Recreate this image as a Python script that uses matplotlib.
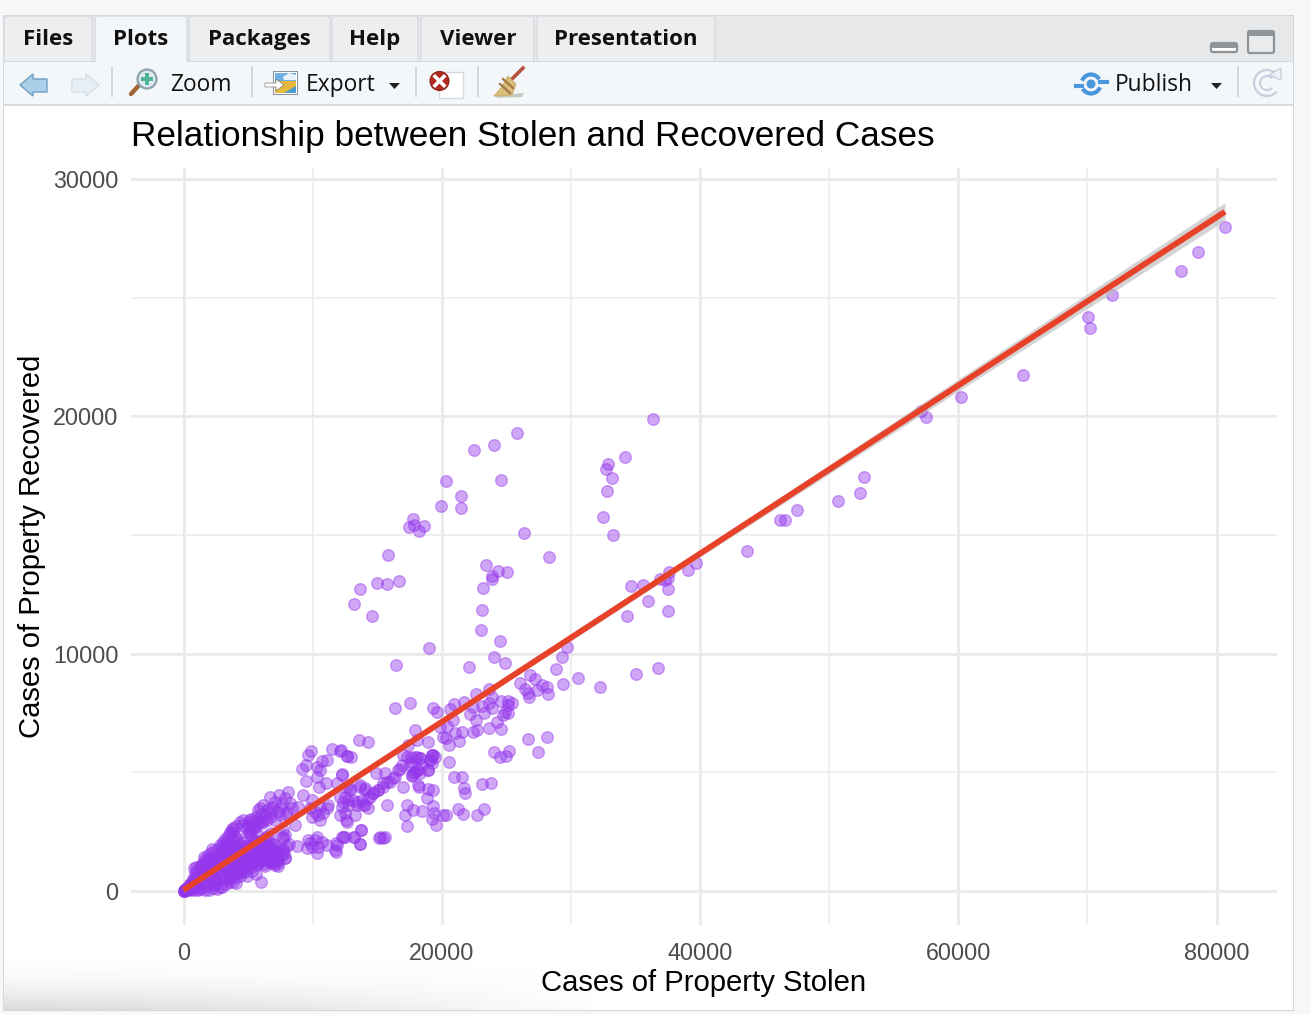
import numpy as np
import matplotlib
matplotlib.use("Agg")
import matplotlib.pyplot as plt
from matplotlib.patches import Rectangle, Polygon, Circle, FancyBboxPatch, Arc

# ---------------- data ----------------
far_x = [80654,78568,77252,71908,70049,70204,65016,60215,57504,57117,52703,52393,50690,47515,46586,46199,43642]
far_y = [27981,26927,26127,25115,24188,23725,21744,20817,19974,20227,17446,16772,16435,16055,15634,15634,14328]

high_x = [36380,25824,24069,22469,34213,32845,32715,33154,32793,20327,24585,21488,19914,21488,32457,33283,26366,17797,17487,17849,18210,18623,15836,28328,23398,24327,25076,23863,23914,23192,15010,15732,16688,13642,13203,14571,23140,23037,24482,19036,24017,24895,22107,16429,29721,29283,28844,30574,29412,32225,35064,36716,34677,35580,35942,34367,37542,37516,36896,37284,37542,37619,39064,39684]
high_y = [19877,19286,18795,18570,18303,17994,17769,17404,16870,17263,17320,16659,16238,16139,15774,15001,15100,15662,15352,15409,15156,15381,14144,14088,13737,13470,13442,13287,13147,12781,12978,12922,13076,12725,12079,11601,11826,10983,10533,10224,9873,9620,9451,9536,10295,9873,9339,8960,8735,8609,9142,9395,12837,12894,12205,11573,11798,12725,13133,13105,13175,13456,13526,13835]

mid_x = [26831,27244,26056,26469,26702,26728,27734,28173,27399,28250,22650,23656,23914,23656,23088,22443,21720,20972,20636,19346,19604,17539,16378,22185,22624,23269,23914,24560,25153,25411,25153,24895,25153,24714,24250,23656,24560,22753,22443,21539,21024,20843,19862,20378,17952,18055,20120,20326,21359,20559,18959,17410,13564,14287,12119,12635,12945,17023,17591,18055,18314,17591,19217,19475,19088,19217,24043,25179,24508,24972,26702,28121,27476,20559,20946,21591,21720,21798,23088,23785,17023,17926,17668,18184,18959,18314,16765,16378,15604,14906]
mid_y = [9100,8918,8749,8496,8327,8159,8665,8580,8468,8299,8285,8496,8187,7906,7794,7766,7962,7864,7667,7723,7555,7906,7709,7442,7203,7484,7695,8004,8004,7906,7836,7555,7484,7414,7105,6852,6810,6782,6712,6712,6670,7203,6922,6951,6796,6361,6501,6431,6332,6150,6262,6150,6361,6291,5911,5688,5658,5728,5658,5658,5588,5447,5728,5658,5517,5377,5869,5911,5658,5686,6389,6501,5855,5419,4815,4815,4351,4112,4506,4562,4365,5026,4857,5096,5096,4955,5124,4815,4955,4955]

band_x = [15991,15474,15087,18184,18236,18959,19294,18830,13668,14055,14700,14313,12893,12248,12764,13410,14055,12893,13668,14055,14700,15474,15732,16249,16636,16894,15087,14442,13797,13151,12506,13926,14313,13410,12764,12248,13281,12506,12635,13745,13203,12506,13668,15165,15474,12248,15732,17281,17152,17281,17797,18494,19346,19423,19217,19526,20120,20326,21282,21669,22701,23295,17281,17926,18313,17539,17797,18055,17668,18959,19088,19346,19217,18442]
band_y = [4604,4393,4253,4463,4365,4295,4253,3901,4393,4253,4112,3901,4323,4885,3831,3761,3620,4256,4467,4326,4115,4537,4607,4748,5099,5310,4256,3975,3835,3835,3975,3624,3483,3624,3624,3554,3202,3272,2921,2570,2289,2261,1980,2247,2247,2289,3624,3624,3202,2739,3413,3371,3582,3272,3020,2781,3202,3202,3441,3244,3202,3441,5661,5661,5591,5310,4958,5099,4888,5099,5520,5731,5731,5310]

low_x = [9847,9667,9486,9202,11086,11473,12170,12635,10699,10312,10570,10364,9460,10493,11035,12248,11912,9280,12635,8118,7421,6699,6182,5744,6957,7602,8247,8892,4634,3859,3601,7344,6699,8634,7731,7731,9925,10570,11215,9925,10570,12119,12377,12119,12583,8815,9667,10312,9538,10312,11086,11861,11783,12377,7679,7086,7860,10183,10828,11086,9796,10441,10183,10699,9925,10441,9796,5924,6440,7086,7860,8376,7989,6699,7473,5150,5666,5021,5537,6053,5150,3988,3472,3214,3730,4376,5021,5666,6311,6828,4376,5150,5924,6569,3343,2956,3859,7859,7085,7343,6956,7730,7859,7730,6698,11731,11808,13202,13718,13667,15215,15602]
low_y = [5913,5731,5309,5127,5520,5970,5941,5689,5492,5239,5098,4818,4635,4396,4536,4916,4536,4045,4396,4185,4045,3946,3623,3412,3553,3694,3694,3553,2991,2640,2499,3342,3132,2780,2288,2570,3132,3553,3623,3834,2991,3974,3764,3202,2991,1895,2148,2288,1797,1586,1937,1937,1656,2260,1755,1446,1375,3342,3272,3483,3483,3202,2148,2078,1867,1867,2007,3483,3412,3764,3904,3483,3342,3483,3483,2991,2991,2780,2710,2850,2499,2288,2148,1867,1797,1937,1867,2078,1867,1937,1516,1516,1586,1586,1516,1586,1375,1375,1094,1164,1446,1726,2359,2218,1797,1726,2008,2288,2570,1979,2260,2260]

core_x = [0,30,60,90,120,150,200,250,300,350,400,450,500,550,600,650,700,750,800,850,900,950,1000,1050,1100,1150,1200,1250,1300,1350,1400,1450,1500,1550,1600,1650,1700,1750,1800,1850,1900,1950,2000,2050,2100,2150,2200,2250,2300,2350,2400,2450,2500,2550,2600,2650,2700,2750,2800,2850,2900,2950,3000,3050,3100,3150,3200,3250,3300,3350,3400,3450,3500,3550,3600,3650,3700,3750,3800,3850,3900,3950,4000,4050,4100,4150,4200,4250,4300,4350,4400,4450,4500,4550,4600,4700,4750,4800,4850,4900,4950,5000,5050,5100,5150,5200,5250,5300,5350,5400,5500,5550,5600,5650,5700,5800,5850,5900,5950,6000,6000,6100,6150,6200,6250,6300,6400,6450,6500,6600,6700,6800,6900,7000,7100,7200,7300]
core_y = [0,20,10,50,30,80,60,120,40,150,90,260,30,180,320,100,420,230,60,520,340,150,650,880,430,40,250,760,1050,560,120,900,340,1200,650,40,1340,480,930,200,1500,760,60,1130,420,1620,850,130,1330,620,1700,960,280,1480,80,780,1780,1150,450,1950,1350,180,880,2050,1550,550,1150,2180,300,1750,800,2320,1350,1980,540,2450,1050,2600,1650,2200,700,1300,1000,2750,1500,2050,780,1250,1800,2900,1000,1550,2800,1250,1900,2050,1400,1100,2650,1750,2300,1250,2900,1950,1500,2300,3050,1200,1800,2750,2100,1550,3100,1300,2400,1800,2900,1400,2100,379,3250,1700,2950,1350,2050,1050,1600,2300,3000,1300,1900,2450,1500,1200,2000,1450,1050]

fill_x = [500,700,900,1100,1300,1500,1700,1900,2100,2300,2500,2700,2900,3100,3300,3500,3700,3900,4100,4300,4500,4700,4900,5100,5300,5500,5700,5900,6100,6300,6500,6700,6900,7100,7300,800,1200,1600,2000,2400,2800,3200,3600,4000,4400,4800,5200,5600,6000,6400,6800,7200,1000,1400,1800,2200,2600,3000,3400,3800,4200,4600,5000,5400,5800,6200,6600,7000]
fill_y = [250,500,750,200,600,1100,850,300,1250,950,500,1400,700,1700,1000,400,2000,1200,600,1700,900,1500,650,1300,850,1650,1100,2000,1400,2250,1700,1200,2000,1700,1300,950,100,1450,1350,300,150,2000,1300,2300,1250,1350,2600,700,2050,1950,1350,1650,1000,1150,1250,1750,1300,1950,1600,2450,1750,1000,1450,1950,1200,1550,1500,1300]

edge_x = [3800,4100,4400,4600,4800,5000,5200,5400,5600,5800,6000,6200,6400,6600,6800,7000,7200,7400,7600,7800,8000,8200,3300,3600,3900,4200,5100,5500,5900,6300,6700,7100,7500,7900,2700,3100,3500]
edge_y = [400,350,650,850,800,1050,1000,1200,1350,1300,1250,1150,1400,1250,1500,1650,1300,1700,1500,1600,1900,2000,500,650,850,750,2500,2700,2900,3150,3300,3000,3200,3250,800,1100,1800]

fit_x = [0, 80654]
fit_y = [40, 28620]
ribbon_x = [0, 8000, 40000, 80654]
ribbon_lo = [-50, 2780, 14080, 28260]
ribbon_hi = [130, 2920, 14360, 29000]

x_major = [0, 20000, 40000, 60000, 80000]
x_minor = [10000, 30000, 50000, 70000]
y_major = [0, 10000, 20000, 30000]
y_minor = [5000, 15000, 25000]

title = "Relationship between Stolen and Recovered Cases"
xlabel = "Cases of Property Stolen"
ylabel = "Cases of Property Recovered"
tabs = ["Files", "Plots", "Packages", "Help", "Viewer", "Presentation"]

stolen = np.array(far_x + high_x + mid_x + band_x + low_x + core_x + fill_x + edge_x)
recovered = np.array(far_y + high_y + mid_y + band_y + low_y + core_y + fill_y + edge_y)

# ---------------- figure and window chrome ----------------
W, H = 1310, 1014
fig = plt.figure(figsize=(W/100, H/100), dpi=100, facecolor="#f5f7f9")
ui = fig.add_axes([0, 0, 1, 1], zorder=0)
ui.set_xlim(0, W); ui.set_ylim(H, 0); ui.axis("off")
UI_FONT = ["Open Sans", "DejaVu Sans"]

def rect(x0, y0, x1, y1, c, z=1, **k):
    ui.add_patch(Rectangle((x0, y0), x1-x0, y1-y0, fc=c, ec="none", zorder=z, **k))

rect(3, 15, 1294, 1011, "#d3d7da", 1)                # window border
rect(4, 16, 1293, 61, "#e6e8ea", 2)                  # tab strip
rect(4, 62, 1293, 104, "#f4f7f9", 2)                 # toolbar
rect(4, 106, 1293, 1010, "#ffffff", 2)               # plot pane

# grey fade in the lower left corner of the pane
fade = np.tile(np.linspace(0, 1, 256)[:, None], (1, 256)) ** 2.0
fade = fade * (1 - np.linspace(0, 1, 256)[None, :] ** 1.5)
img = np.ones((256, 256, 4)); img[..., :3] = 0.86; img[..., 3] = fade
ui.imshow(img, extent=(4, 600, 1010, 955), aspect="auto", zorder=2.5, interpolation="bilinear")
ui.set_xlim(0, W); ui.set_ylim(H, 0)

tab_edges = [(4, 92), (95, 187), (189, 330), (332, 418), (421, 534), (537, 715)]
tab_cx = [48.5, 140.5, 259, 375, 478, 626]
for i, (t, (a, b), cx) in enumerate(zip(tabs, tab_edges, tab_cx)):
    sel = t == "Plots"
    ui.add_patch(FancyBboxPatch((a, 16), b-a, 52, boxstyle="round,pad=0,rounding_size=3",
                                fc="#f4f7f9" if sel else "#eceef0",
                                ec="#d8dbde", lw=1, zorder=3))
    ui.text(cx, 45, t, ha="center", va="baseline", fontsize=16.0, fontweight="bold",
            family=UI_FONT, color="#111111", zorder=6)
rect(4, 60.5, 95, 62, "#d3d7da", 4); rect(187, 60.5, 1293, 62, "#d3d7da", 4)
rect(4, 62, 1293, 104, "#f4f7f9", 3.5)
rect(96, 58, 186, 64, "#f4f7f9", 4)
rect(4, 104, 1293, 106, "#d5dadd", 4)

# window buttons
ui.add_patch(FancyBboxPatch((1211, 43), 26, 9, boxstyle="round,pad=0,rounding_size=2", fc="#ffffff", ec="#8f9498", lw=1.6, zorder=6))
rect(1211, 43, 1237, 48, "#8f9498", 7)
ui.add_patch(FancyBboxPatch((1248, 31), 26, 22, boxstyle="round,pad=0,rounding_size=2", fc="#e9ebed", ec="#8f9498", lw=1.6, zorder=6))
rect(1248, 31, 1274, 36, "#8f9498", 7)

# separators
for sx in (112, 252, 416, 478, 1238):
    ui.plot([sx, sx], [67, 96], color="#d3d7da", lw=1.4, zorder=6)

# back / forward arrows
ui.add_patch(Polygon([(20, 85), (33, 74), (33, 79), (47, 79), (47, 92), (33, 92), (33, 96)], fc="#a9cfe9", ec="#6f9fc4", lw=1, zorder=6))
ui.add_patch(Polygon([(99, 85), (86, 74), (86, 79), (72, 79), (72, 92), (86, 92), (86, 96)], fc="#e7eff5", ec="#d4e0e8", lw=1, zorder=6))

# zoom icon
ui.plot([131, 141], [94, 83], color="#a0683a", lw=3.2, zorder=6, solid_capstyle="round")
ui.add_patch(Circle((147, 79), 9.5, fc="#dfeaf0", ec="#8fa3ad", lw=1.6, zorder=7))
rect(145, 73, 149, 85, "#4fb596", 8); rect(141, 77, 153, 81, "#4fb596", 8)
ui.text(200.5, 91, "Zoom", ha="center", va="baseline", fontsize=16.4, family=UI_FONT, color="#111111", zorder=6)

# export icon
rect(273, 71, 298, 95, "#8c9499", 6); rect(274, 72, 297, 94, "#ffffff", 6.2)
rect(275, 73, 296, 81, "#6fb0e6", 6.4); rect(275, 81, 296, 93, "#e6b83c", 6.4)
ui.add_patch(Polygon([(283, 77), (289, 73), (296, 75), (296, 80), (284, 80)], fc="#eaf3fa", ec="none", zorder=6.5))
ui.add_patch(Polygon([(284, 93), (296, 86), (296, 93)], fc="#4e9bd0", ec="none", zorder=6.5))
ui.add_patch(Polygon([(265, 83), (276, 83), (276, 79), (284, 85), (276, 91), (276, 87), (265, 87)], fc="#ffffff", ec="#777777", lw=0.5, zorder=7))
ui.text(340.5, 91, "Export", ha="center", va="baseline", fontsize=16.4, family=UI_FONT, color="#111111", zorder=6)
ui.add_patch(Polygon([(389, 83), (400, 83), (394.5, 89)], fc="#222222", ec="none", zorder=6))

# clear icon
ui.add_patch(Rectangle((439, 72), 24, 26, fc="#ffffff", ec="#d6dadd", lw=1, zorder=6))
ui.add_patch(Circle((439.5, 81), 9.5, fc="#b12a22", ec="#8c211b", lw=0.8, zorder=7))
ui.plot([435, 444], [76.5, 85.5], color="white", lw=2.6, zorder=8)
ui.plot([435, 444], [85.5, 76.5], color="white", lw=2.6, zorder=8)

# broom icon
ui.plot([512, 523], [79, 68], color="#b5533f", lw=2.6, zorder=6)
ui.add_patch(Polygon([(508, 76), (516, 84), (512, 95), (494, 96), (501, 88)], fc="#d9bd7b", ec="#c9ab66", lw=0.6, zorder=7))
ui.plot([503, 513], [79, 88], color="#a57746", lw=1.6, zorder=8)
ui.plot([500, 510], [84, 93], color="#a57746", lw=1.6, zorder=8)
ui.add_patch(Polygon([(494, 96), (524, 93), (522, 97), (498, 98)], fc="#c9c9c0", ec="none", zorder=6.5))

# publish
ui.add_patch(Circle((1091, 84), 4.5, fc="#4b97de", ec="none", zorder=6))
ui.add_patch(Arc((1091, 84), 19, 19, theta1=200, theta2=330, ec="#4b97de", lw=3, zorder=6))
ui.add_patch(Arc((1091, 84), 19, 19, theta1=20, theta2=150, ec="#4b97de", lw=3, zorder=6))
ui.plot([1076, 1082], [86, 86], color="#4b97de", lw=3, zorder=6)
ui.plot([1100, 1107], [82, 82], color="#4b97de", lw=3, zorder=6)
ui.text(1153.5, 91, "Publish", ha="center", va="baseline", fontsize=16.4, family=UI_FONT, color="#111111", zorder=6)
ui.add_patch(Polygon([(1211, 83), (1222, 83), (1216.5, 89)], fc="#222222", ec="none", zorder=6))

# refresh
ui.add_patch(Arc((1267, 83), 26, 26, theta1=40, theta2=320, ec="#c5d0dc", lw=1.6, zorder=6))
ui.add_patch(Arc((1267, 83), 14, 14, theta1=40, theta2=320, ec="#c5d0dc", lw=1.4, zorder=6))
ui.add_patch(Polygon([(1269, 75), (1281, 68), (1281, 80)], fc="#eef2f6", ec="#c5d0dc", lw=1, zorder=6))

# ---------------- the plot ----------------
L, R, T, B = 131, 1277, 168, 925
ax = fig.add_axes([L/W, 1-B/H, (R-L)/W, (B-T)/H], zorder=2)
ax.patch.set_alpha(0)
px_x = 80000/1033.0
px_y = 30000/712.0
ax.set_xlim((L-183.5)*px_x, (R-183.5)*px_x)
ax.set_ylim((891-B)*px_y, (891-T)*px_y)
for s in ax.spines.values():
    s.set_visible(False)

for v in x_minor:
    ax.axvline(v, color="#ebebeb", lw=1.1, zorder=1)
for v in y_minor:
    ax.axhline(v, color="#ebebeb", lw=1.1, zorder=1)
for v in x_major:
    ax.axvline(v, color="#ebebeb", lw=2.2, zorder=1.1)
for v in y_major:
    ax.axhline(v, color="#ebebeb", lw=2.2, zorder=1.1)

ax.scatter(stolen, recovered, s=70, facecolor=(0.58, 0.21, 0.92, 0.44),
           edgecolor=(0.58, 0.21, 0.92, 0.44), linewidths=1.0, zorder=3, clip_on=False)
ax.fill_between(ribbon_x, ribbon_lo, ribbon_hi, color="#bdbdbd", alpha=0.65, lw=0, zorder=4)
ax.plot(fit_x, fit_y, color="#e8412a", lw=4.2, solid_capstyle="butt", zorder=5)

ax.set_xticks(x_major); ax.set_yticks(y_major)
ax.set_xticklabels([str(v) for v in x_major]); ax.set_yticklabels([str(v) for v in y_major])
ax.tick_params(length=0, labelsize=16.8, labelcolor="#4d4d4d", pad=0)
ax.tick_params(axis="x", pad=12)
ax.tick_params(axis="y", pad=9)
for t in ax.get_xticklabels() + ax.get_yticklabels():
    t.set_family("Liberation Sans")

ax.set_title(title, loc="left", family="Liberation Sans", fontsize=25.3, color="black", pad=16, x=0.0)
ax.set_xlabel(xlabel, family="Liberation Sans", fontsize=21.05, color="black", labelpad=3)
ax.set_ylabel(ylabel, family="Liberation Sans", fontsize=21.05, color="black", labelpad=5.3)

fig.savefig("out.png", dpi=100, facecolor=fig.get_facecolor())
